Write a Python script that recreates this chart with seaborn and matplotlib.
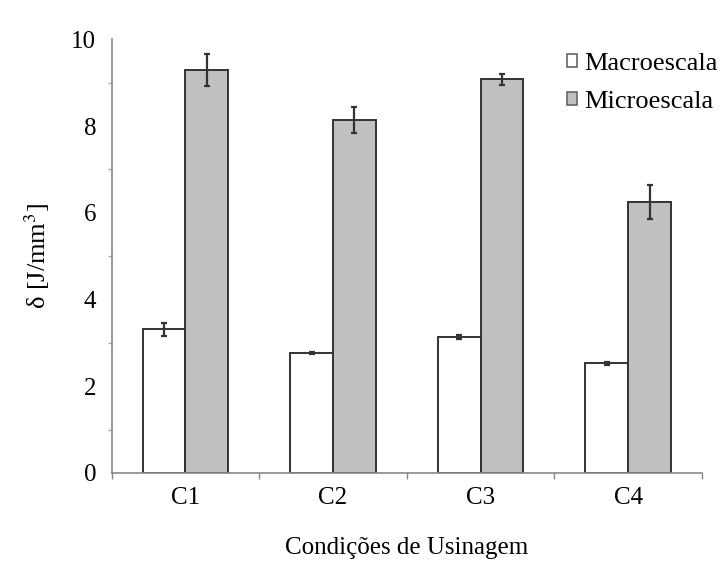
import matplotlib

matplotlib.use("Agg")
import matplotlib.pyplot as plt
import pandas as pd
import seaborn as sns
from matplotlib.ticker import FixedLocator, MultipleLocator

# valores
condicoes = ["C1", "C2", "C3", "C4"]
macro = [3.31, 2.77, 3.13, 2.53]
macro_err = [0.15, 0.03, 0.05, 0.03]
micro = [9.30, 8.14, 9.08, 6.25]
micro_err = [0.37, 0.31, 0.13, 0.40]
escalas = ["Macroescala", "Microescala"]
cores = ["#ffffff", "#c0c0c0"]

df = pd.DataFrame(
    {
        "condicao": condicoes * 2,
        "escala": [escalas[0]] * 4 + [escalas[1]] * 4,
        "delta": macro + micro,
        "erro": macro_err + micro_err,
    }
)

sns.set_style("white")
plt.rcParams["font.family"] = ["Liberation Serif", "DejaVu Serif"]
plt.rcParams["mathtext.fontset"] = "stix"
plt.rcParams["text.color"] = "black"
plt.rcParams["axes.labelcolor"] = "black"
plt.rcParams["xtick.labelcolor"] = "black"
plt.rcParams["ytick.labelcolor"] = "black"

fig = plt.figure(figsize=(7.2, 5.63), dpi=100)
ax = fig.add_axes([0.155, 0.16, 0.82, 0.77])

sns.barplot(
    data=df,
    x="condicao",
    y="delta",
    hue="escala",
    palette=cores,
    width=0.58,
    errorbar=None,
    edgecolor="#333333",
    linewidth=1.4,
    ax=ax,
)

# barras de erro nos centros das barras
barras = [p for p in ax.patches if p.get_height() > 0]
for barra, (_, linha) in zip(barras, df.iterrows()):
    cx = barra.get_x() + barra.get_width() / 2
    ax.errorbar(
        cx,
        linha["delta"],
        yerr=linha["erro"],
        fmt="none",
        ecolor="#333333",
        elinewidth=1.6,
        capsize=2.5,
        capthick=1.6,
    )

ax.set_ylim(0, 10)
ax.set_xlim(-0.5, 3.5)
ax.yaxis.set_major_locator(MultipleLocator(2))
ax.yaxis.set_minor_locator(MultipleLocator(1))
ax.xaxis.set_minor_locator(FixedLocator([-0.5, 0.5, 1.5, 2.5, 3.5]))

ax.tick_params(axis="y", which="major", length=5, width=1, color="#888888",
               labelsize=18, pad=6)
ax.tick_params(axis="y", which="minor", left=True, length=3, width=1, color="#aaaaaa")
ax.tick_params(axis="x", which="major", length=0, labelsize=18, pad=10)
ax.tick_params(axis="x", which="minor", bottom=True, length=4, width=1, color="#888888")

for lado in ["top", "right"]:
    ax.spines[lado].set_visible(False)
for lado in ["left", "bottom"]:
    ax.spines[lado].set_color("#888888")
    ax.spines[lado].set_linewidth(1.2)

ax.set_xlabel("Condições de Usinagem", fontsize=18, labelpad=20)
ax.set_ylabel("δ [J/mm$^3$]", fontsize=19, labelpad=14)

handles, labels = ax.get_legend_handles_labels()
for h in handles:
    h.set_edgecolor("#666666")
    h.set_linewidth(1.2)
ax.legend(
    handles,
    labels,
    loc="upper right",
    bbox_to_anchor=(1.011, 0.925),
    bbox_transform=fig.transFigure,
    frameon=False,
    fontsize=19,
    handlelength=0.4,
    handleheight=0.4,
    handletextpad=0.25,
    labelspacing=0.6,
    borderaxespad=0,
)

fig.savefig("out.png", dpi=100)
